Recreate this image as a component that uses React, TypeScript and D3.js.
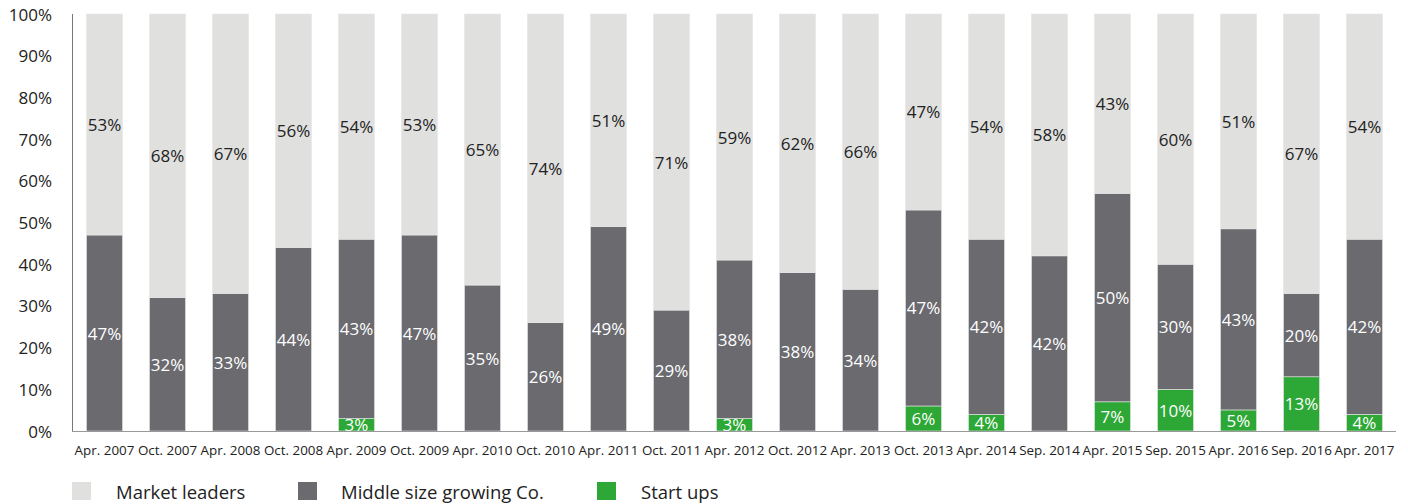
import React from "react";
import * as d3 from "d3";

const categories = ["Apr. 2007","Oct. 2007","Apr. 2008","Oct. 2008","Apr. 2009","Oct. 2009","Apr. 2010","Oct. 2010","Apr. 2011","Oct. 2011","Apr. 2012","Oct. 2012","Apr. 2013","Oct. 2013","Apr. 2014","Sep. 2014","Apr. 2015","Sep. 2015","Apr. 2016","Sep. 2016","Apr. 2017"];
const startUps = [0,0,0,0,3,0,0,0,0,0,3,0,0,6,4,0,7,10,5,13,4];
const middleSize = [47,32,33,44,43,47,35,26,49,29,38,38,34,47,42,42,50,30,43,20,42];
const marketLeaders = [53,68,67,56,54,53,65,74,51,71,59,62,66,47,54,58,43,60,51,67,54];
const yTicks = [0,10,20,30,40,50,60,70,80,90,100];
const seriesNames = ["Market leaders","Middle size growing Co.","Start ups"];
const colors = ["#e0e0df","#6a6a6f","#2da836"];

const W = 1408, H = 504;
const left = 73, right = 1396, top = 14, bottom = 431;
const FONT = "'Open Sans', sans-serif";

export default function App() {
  const x = d3.scaleBand<string>().domain(categories).range([left, right]).paddingInner(0.4286).paddingOuter(0.2143);
  const y = d3.scaleLinear().domain([0, 1]).range([bottom, top]);
  const yAxis = d3.scaleLinear().domain([0, 100]).range([bottom, top]);
  const stackData = categories.map((c, i) => ({ cat: c, s: startUps[i], m: middleSize[i], l: marketLeaders[i] }));
  const stack = d3.stack<any>().keys(["s", "m", "l"]).offset(d3.stackOffsetExpand)(stackData);
  const raw: Record<string, number[]> = { s: startUps, m: middleSize, l: marketLeaders };
  const colorByKey: Record<string, string> = { s: colors[2], m: colors[1], l: colors[0] };
  const textByKey: Record<string, string> = { s: "#ffffff", m: "#ffffff", l: "#222222" };

  return (
    <svg width={W} height={H} style={{ position: "absolute", left: 0, top: 0 }} fontFamily={FONT}>
      {stack.map((layer) => (
        <g key={layer.key}>
          {layer.map((d, i) => {
            const v = raw[layer.key][i];
            if (v <= 0) return null;
            const bx = x(categories[i])!;
            return (
              <g key={i}>
                <rect x={bx} y={y(d[1])} width={x.bandwidth()} height={y(d[0]) - y(d[1])} fill={colorByKey[layer.key]} stroke="#e6e6e6" strokeWidth={0.6} />
                <text x={bx + x.bandwidth() / 2} y={(y(d[0]) + y(d[1])) / 2} textAnchor="middle" dominantBaseline="central" fontSize={17} fill={textByKey[layer.key]}>
                  {v}%
                </text>
              </g>
            );
          })}
        </g>
      ))}
      <line x1={left - 0.5} x2={left - 0.5} y1={top} y2={bottom} stroke="#777" strokeWidth={1} />
      <line x1={left - 1} x2={right} y1={bottom + 0.5} y2={bottom + 0.5} stroke="#999" strokeWidth={1.2} />
      {yTicks.map((t) => (
        <text key={t} x={52} y={yAxis(t)} textAnchor="end" dominantBaseline="central" fontSize={17} fill="#222">{t}%</text>
      ))}
      {categories.map((c) => (
        <text key={c} x={x(c)! + x.bandwidth() / 2} y={450} textAnchor="middle" dominantBaseline="central" fontSize={13.4} fill="#222">{c}</text>
      ))}
      {seriesNames.map((n, i) => {
        const lx = [72, 298, 597][i];
        const tx = [116, 341, 641][i];
        return (
          <g key={n}>
            <rect x={lx} y={482} width={19} height={18} fill={colors[i]} />
            <text x={tx} y={491} dominantBaseline="central" fontSize={18.5} fill="#222">{n}</text>
          </g>
        );
      })}
    </svg>
  );
}
